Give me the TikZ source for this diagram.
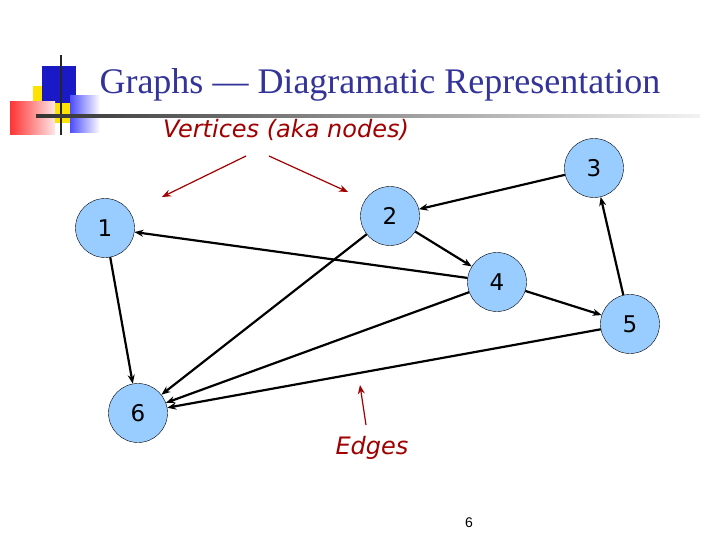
\documentclass[tikz,border=0pt]{standalone}
\usepackage{fontspec}
\setmainfont{Liberation Serif}
\newfontfamily\vsans{DejaVu Sans}
\newfontfamily\asans{Liberation Sans}
\usetikzlibrary{arrows.meta}
\definecolor{nodeblue}{HTML}{99CCFF}
\definecolor{titleblue}{HTML}{333399}
\definecolor{darkred}{HTML}{A00000}
\tikzset{
 v/.style={circle,draw=black,fill=nodeblue,minimum size=59pt,inner sep=0pt,font=\vsans\fontsize{23}{23}\selectfont},
 e/.style={draw,line width=2.2pt,-{Stealth[length=9pt,width=7pt]}},
 r/.style={draw=darkred,line width=1.2pt,-{Stealth[length=9pt,width=7pt]}},
 lab/.style={text=darkred,font=\vsans\itshape\fontsize{24}{24}\selectfont}
}
\begin{document}
\begin{tikzpicture}[x=1pt,y=-1pt]
\useasboundingbox (0,0) rectangle (720,540);
\fill[white] (0,0) rectangle (720,540);
% decoration
\fill[yellow!85!orange] (33,86) rectangle (62,123);
\fill[blue!75!black!90] (42,66) rectangle (76,103);
\shade[left color=red!80,right color=red!10] (10,102) rectangle (55,135);
\shade[left color=blue!70,right color=white] (70,96) rectangle (100,133);
\fill[yellow!85!orange] (55,103) rectangle (70,123);
\draw[line width=2.5pt,black!85] (61,55) -- (61,135);
\shade[left color=black!80,right color=black!5] (36,115) rectangle (700,118);
% title
\node[text=titleblue,font=\fontsize{36}{36}\selectfont,anchor=west] (title) at (96,85) {Graphs — Diagramatic Representation};
% nodes
\node[v] (n1) at (105,228) {1};
\node[v] (n2) at (390,216) {2};
\node[v] (n3) at (594,168) {3};
\node[v] (n4) at (497,282) {4};
\node[v] (n5) at (630,324) {5};
\node[v] (n6) at (138,413) {6};
\path[e] (n3) -- (n2);
\path[e] (n2) -- (n4);
\path[e] (n4) -- (n1);
\path[e] (n4) -- (n5);
\path[e] (n5) -- (n3);
\path[e] (n1) -- (n6);
\path[e] (n2) -- (n6);
\path[e] (n4) -- (n6);
\path[e] (n5) -- (n6);
% labels
\node[lab] (vl) at (286,130) {Vertices (aka nodes)};
\node[lab] (el) at (372,448) {Edges};
\coordinate (va) at (246,156); \coordinate (va2) at (162,197);
\coordinate (vb) at (269,156); \coordinate (vb2) at (348,192);
\coordinate (ea) at (366,425); \coordinate (ea2) at (360,385);
\path[r] (va) -- (va2);
\path[r] (vb) -- (vb2);
\path[r] (ea) -- (ea2);
\node[font=\asans\fontsize{14}{14}\selectfont] (pg) at (469,523) {6};
\end{tikzpicture}
\end{document}
